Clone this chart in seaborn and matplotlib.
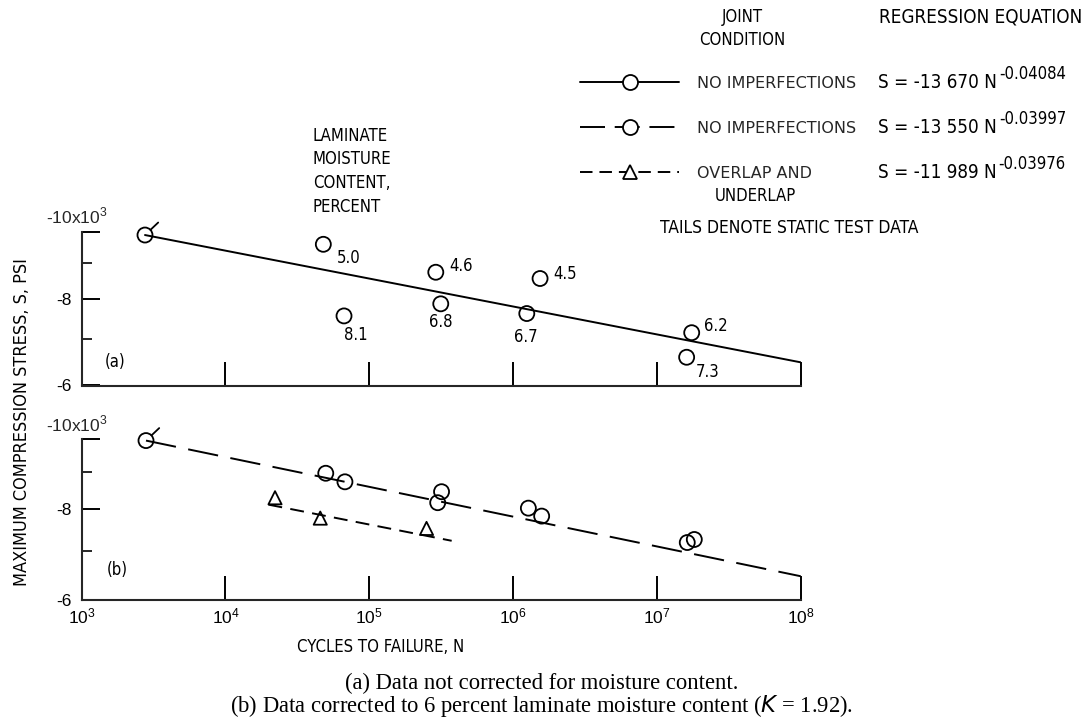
import matplotlib
matplotlib.use("Agg")
import matplotlib.pyplot as plt
from matplotlib import font_manager
from matplotlib.lines import Line2D
from matplotlib.ticker import FixedLocator, FixedFormatter, NullLocator, NullFormatter, LogFormatterSciNotation
import seaborn as sns

# ciclos a la falla N y esfuerzo maximo de compresion S (ksi, compresion negativa)
# (a) datos sin corregir por humedad
a_N = [47900, 66700, 290000, 314000, 1245000, 1540000, 17460000, 16100000]
a_S = [-9.59, -7.56, -8.74, -7.87, -7.62, -8.56, -7.15, -6.59]
a_humedad = ['5.0', '8.1', '4.6', '6.8', '6.7', '4.5', '6.2', '7.3']
a_static_N = [2755]
a_static_S = [-9.89]
a_fit_N = [2755, 1e8]
a_fit_S = [-9.89, -6.48]

# (b) datos corregidos a 6 por ciento de humedad
b_N = [49800, 67700, 318000, 299000, 1277000, 1580000, 16260000, 18200000]
b_S = [-8.97, -8.73, -8.46, -8.17, -8.03, -7.83, -7.20, -7.27]
b_static_N = [2800]
b_static_S = [-9.95]
b_fit_N = [2800, 1e8]
b_fit_S = [-9.95, -6.47]
tri_N = [22100, 45600, 250000]
tri_S = [-8.30, -7.78, -7.53]
tri_fit_N = [19900, 374000]
tri_fit_S = [-8.12, -7.24]

decadas = [1e3, 1e4, 1e5, 1e6, 1e7, 1e8]

# leyenda
condiciones = ['NO IMPERFECTIONS', 'NO IMPERFECTIONS', 'OVERLAP AND']
ecuaciones = ['S = -13 670 N', 'S = -13 550 N', 'S = -11 989 N']
exponentes = ['-0.04084', '-0.03997', '-0.03976']

W, H = 1086, 723
def fx(px):
    return px / W
def fy(py):
    return 1 - py / H

sns.set_theme(style='ticks')
nombres = {f.name for f in font_manager.fontManager.ttflist}
estrecha = 'Liberation Sans Narrow' if 'Liberation Sans Narrow' in nombres else 'DejaVu Sans'
plt.rcParams['font.family'] = ['Liberation Sans', 'DejaVu Sans']
plt.rcParams['lines.scale_dashes'] = False
plt.rcParams['axes.linewidth'] = 1.5
txt = dict(family=[estrecha, 'DejaVu Sans'], size=12, color='black')
if estrecha == 'DejaVu Sans':
    txt['stretch'] = 'condensed'

fig = plt.figure(figsize=(W / 100, H / 100), dpi=100)
ax_a = fig.add_axes([fx(81.7), fy(385.5), fx(800.7) - fx(81.7), fy(231.7) - fy(385.5)])
ax_b = fig.add_axes([fx(81.7), fy(600), fx(800.7) - fx(81.7), fy(439) - fy(600)])

solida = '-'
larga = (0, (22, 9))
corta = (0, (10, 6))
ms = 10.8


def marcas(ax, N, S, marker='o', size=ms):
    sns.scatterplot(x=N, y=[-s for s in S], ax=ax, marker=marker, s=size ** 2,
                    facecolor='none', edgecolor='black', linewidth=1.3,
                    zorder=4, clip_on=False, legend=False)


def recta(ax, N, S, ls):
    sns.lineplot(x=N, y=[-s for s in S], ax=ax, color='black', linewidth=1.4,
                 linestyle=ls, estimator=None, sort=False, zorder=3, legend=False)


def colas(ax, N, S):
    for n, s in zip(N, S):
        ax.annotate('', xy=(n, -s), xytext=(9.5, 9), textcoords='offset points',
                    arrowprops=dict(arrowstyle='-', lw=1.3, color='black', shrinkA=0, shrinkB=5.4),
                    annotation_clip=False)


def ejes(ax, etiquetas_x):
    ax.set_xscale('log')
    ax.set_yscale('log')
    ax.set_xlim(1e3, 1e8)
    ax.set_ylim(6, 10)
    ax.xaxis.set_major_locator(FixedLocator(decadas))
    ax.xaxis.set_minor_locator(NullLocator())
    if etiquetas_x:
        ax.xaxis.set_major_formatter(LogFormatterSciNotation())
    else:
        ax.xaxis.set_major_formatter(NullFormatter())
    ax.yaxis.set_major_locator(FixedLocator([6, 8, 10]))
    ax.yaxis.set_major_formatter(FixedFormatter(['-6', '-8', '']))
    ax.yaxis.set_minor_locator(FixedLocator([7, 9]))
    ax.yaxis.set_minor_formatter(NullFormatter())
    ax.tick_params(axis='x', which='major', direction='in', length=17, width=1.4,
                   pad=5, labelsize=12.5, colors='black')
    ax.tick_params(axis='y', which='major', direction='in', length=13, width=1.4,
                   pad=7, labelsize=12.5, colors='black')
    ax.tick_params(axis='y', which='minor', direction='in', length=7, width=1.4)
    ax.spines['top'].set_visible(False)
    ax.spines['right'].set_visible(False)
    ax.patch.set_alpha(0)
    ax.annotate('-10x10$^{\\mathregular{3}}$', xy=(0, 10), xycoords=('axes fraction', 'data'),
                xytext=(-25.5, 11), textcoords='offset points', ha='left', va='center',
                fontsize=12.5, annotation_clip=False)


# panel (a)
recta(ax_a, a_fit_N, a_fit_S, solida)
marcas(ax_a, a_N, a_S)
marcas(ax_a, a_static_N, a_static_S)
colas(ax_a, a_static_N, a_static_S)
ejes(ax_a, False)
desplaz = [(18, -10), (8.6, -13.7), (18, 4.3), (0, -13), (-0.7, -16.6), (18, 3.6), (17.3, 5), (15, -10.8)]
for n, s, h, d in zip(a_N, a_S, a_humedad, desplaz):
    ax_a.annotate(h, xy=(n, -s), xytext=d, textcoords='offset points',
                  ha='center', va='center', **txt)

# panel (b)
recta(ax_b, b_fit_N, b_fit_S, larga)
recta(ax_b, tri_fit_N, tri_fit_S, corta)
marcas(ax_b, b_N, b_S)
marcas(ax_b, b_static_N, b_static_S)
colas(ax_b, b_static_N, b_static_S)
marcas(ax_b, tri_N, tri_S, marker='^', size=9.5)
ejes(ax_b, True)

fig.text(fx(105), fy(362), '(a)', ha='left', va='center', **txt)
fig.text(fx(107), fy(570), '(b)', ha='left', va='center', **txt)

# textos de ejes
fig.text(fx(22), fy(422), 'MAXIMUM COMPRESSION STRESS, S, PSI', rotation=90,
         ha='center', va='center', **{**txt, 'size': 13})
fig.text(fx(381), fy(647), 'CYCLES TO FAILURE, N', ha='center', va='center', **txt)

# humedad del laminado
for i, linea in enumerate(['LAMINATE', 'MOISTURE', 'CONTENT,', 'PERCENT']):
    fig.text(fx(313), fy(136 + 23.5 * i), linea, ha='left', va='center', **txt)

# encabezado de la leyenda
fig.text(fx(742), fy(17), 'JOINT', ha='center', va='center', **txt)
fig.text(fx(742), fy(40), 'CONDITION', ha='center', va='center', **txt)
fig.text(fx(1082), fy(17), 'REGRESSION EQUATION', ha='right', va='center', **{**txt, 'size': 13.5})

manijas = [
    Line2D([], [], color='black', lw=1.4, ls=solida, marker='o', ms=ms, mfc='white', mec='black', mew=1.3),
    Line2D([], [], color='black', lw=1.4, ls=(0, (18, 7)), marker='o', ms=ms, mfc='white', mec='black', mew=1.3),
    Line2D([], [], color='black', lw=1.4, ls=(0, (9, 5)), marker='^', ms=9.5, mfc='white', mec='black', mew=1.3),
]
fig.legend(manijas, condiciones, loc='upper left', bbox_to_anchor=(fx(580), fy(76)),
           frameon=False, handlelength=6.2, handletextpad=1.15, labelspacing=1.88,
           borderpad=0, borderaxespad=0, numpoints=1,
           prop=font_manager.FontProperties(family=txt['family'], size=11.5))
for i, (e, p) in enumerate(zip(ecuaciones, exponentes)):
    t = fig.text(fx(878), fy(88 + 45 * i), e, ha='left', va='baseline', **{**txt, 'size': 13.5})
    ax_a.annotate(p, xy=(1, 1), xycoords=t, xytext=(1.5, -0.5), textcoords='offset points',
                  ha='left', va='center', annotation_clip=False, **{**txt, 'size': 12})
fig.text(fx(755), fy(196), 'UNDERLAP', ha='center', va='center', **txt)
fig.text(fx(660), fy(228), 'TAILS DENOTE STATIC TEST DATA', ha='left', va='center', **{**txt, 'size': 12.5})

# pie de figura
pie = dict(family=['Liberation Serif', 'DejaVu Serif'], size=16.3, color='black')
fig.text(0.499, fy(683), '(a) Data not corrected for moisture content.', ha='center', va='center', **pie)
fig.text(0.499, fy(706), '(b) Data corrected to 6 percent laminate moisture content ($\\mathit{K}$ = 1.92).',
         ha='center', va='center', **pie)

fig.savefig('out.png', dpi=100)
